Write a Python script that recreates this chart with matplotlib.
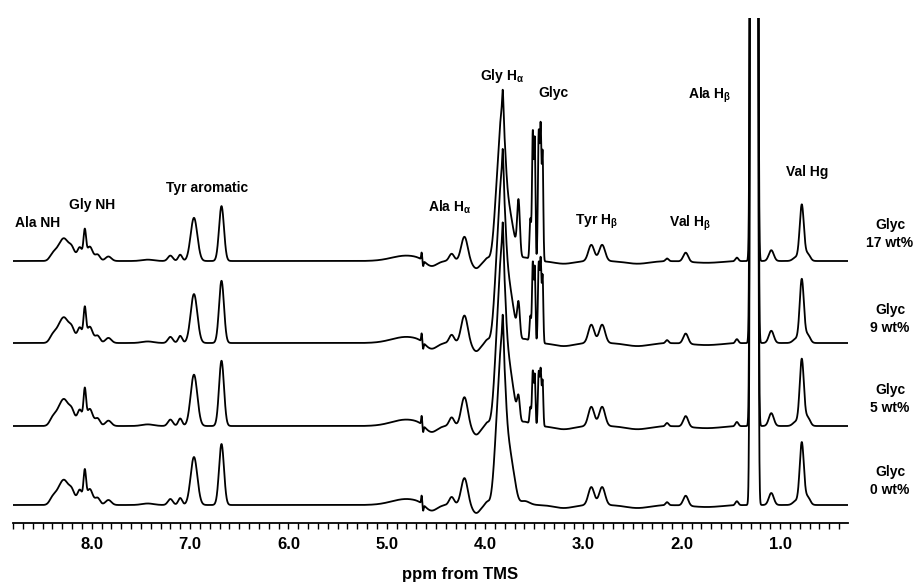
#Stacked 1H NMR spectra of silk film with glycerol
#peak lists, drawn as sums of gaussian lines

import numpy as np
import matplotlib
matplotlib.use('Agg')
import matplotlib.pyplot as plt

plt.rcParams['font.family'] = ['Liberation Sans', 'DejaVu Sans']
plt.rcParams['mathtext.fontset'] = 'custom'
plt.rcParams['mathtext.rm'] = 'Liberation Sans:bold'
plt.rcParams['mathtext.it'] = 'Liberation Sans:bold'
plt.rcParams['mathtext.bf'] = 'Liberation Sans:bold'

#protein peaks (ppm, height, width)
prot_ppm = [8.40, 8.35, 8.28, 8.20, 8.12, 8.07, 8.02, 7.94, 7.83, 7.43,
            7.20, 7.10, 6.96, 6.68,
            4.80, 4.55, 4.645, 4.63, 4.34, 4.21, 4.09, 3.98,
            3.87, 3.82, 3.82, 3.76, 3.71, 3.60, 3.20,
            2.92, 2.81, 2.45, 2.15, 1.96, 1.75, 1.44,
            1.285, 1.245, 1.09, 0.84, 0.78, 0.72]
prot_height = [6, 7, 24, 12, 15, 30, 16, 7, 5, 1.5,
               6, 7, 48, 61,
               6, -7, 8, -6, 8, 27, -8, 3,
               80, 130, 25, 45, 22, 4, -3,
               18, 18, -3, 3, 10, -2, 4,
               3000, 3000, 12, 4, 62, 8]
prot_width = [0.03, 0.035, 0.045, 0.03, 0.025, 0.013, 0.03, 0.025, 0.03, 0.06,
              0.025, 0.02, 0.034, 0.025,
              0.15, 0.06, 0.005, 0.005, 0.025, 0.033, 0.04, 0.02,
              0.035, 0.03, 0.006, 0.03, 0.03, 0.05, 0.1,
              0.03, 0.03, 0.12, 0.015, 0.025, 0.15, 0.015,
              0.012, 0.012, 0.025, 0.03, 0.021, 0.025]

#glycerol lines (ppm, height, width)
glyc_ppm = [3.66, 3.54, 3.515, 3.495, 3.455, 3.435, 3.415]
glyc_height = [55, 40, 128, 118, 125, 132, 105]
glyc_width = [0.014, 0.008, 0.008, 0.007, 0.008, 0.008, 0.007]

#spectra, bottom to top
samples = ['0', '5', '9', '17']
prot_scale = [1.0, 1.07, 1.02, 0.9]
glyc_scale = [0.0, 0.42, 0.62, 1.0]

ppm = np.linspace(8.80, 0.31, 6000)

def spectrum(p_sc, g_sc):
    y = np.zeros_like(ppm)
    for c, h, w in zip(prot_ppm, prot_height, prot_width):
        y += p_sc*h*np.exp(-0.5*((ppm - c)/w)**2)
    for c, h, w in zip(glyc_ppm, glyc_height, glyc_width):
        y += g_sc*h*np.exp(-0.5*((ppm - c)/w)**2)
    return y

W, H = 919, 586
fig = plt.figure(figsize=(W/100, H/100), dpi=100)
#axes placed in pixels: x 13..848, y 18..523 from top
ax = fig.add_axes([13/W, (H-523)/H, 835/W, 505/H])

#baselines of the four traces in pixels above the axis line
offsets = [18, 97, 180, 262]
for i in range(len(samples)):
    ax.plot(ppm, offsets[i] + spectrum(prot_scale[i], glyc_scale[i]),
            color='black', lw=1.3)

ax.set_xlim(8.80, 0.31)
ax.set_ylim(0, 505)
for s in ['top', 'left', 'right']:
    ax.spines[s].set_visible(False)
ax.spines['bottom'].set_linewidth(1.3)
ax.set_yticks([])
ax.set_xticks(np.arange(1.0, 8.01, 1.0))
ax.set_xticks(np.arange(0.4, 8.81, 0.1), minor=True)
ax.set_xticklabels(['%.1f' % v for v in np.arange(1.0, 8.01, 1.0)])
ax.tick_params(axis='x', which='both', direction='out', length=4, width=1.0,
               pad=6, labelsize=12)
for t in ax.get_xticklabels():
    t.set_fontweight('bold')

def px(x, y):
    return x/W, 1 - y/H

#peak labels, pixel centres
labels = [('Ala NH', 38, 223), ('Gly NH', 92, 205), ('Tyr aromatic', 207, 188),
          (r'Ala H$_\alpha$', 450, 207), (r'Gly H$_\alpha$', 502, 76),
          ('Glyc', 553, 93), (r'Tyr H$_\beta$', 597, 222),
          (r'Val H$_\beta$', 690, 223), (r'Ala H$_\beta$', 710, 95),
          ('Val Hg', 807, 172)]
for txt, x, y in labels:
    fig.text(*px(x, y), txt, ha='center', va='center', fontsize=10,
             fontweight='bold')

#trace labels on the right
label_y = [481, 399, 319, 234]
for i in range(len(samples)):
    fig.text(*px(890, label_y[i]), 'Glyc\n%s wt%%' % samples[i], ha='center',
             va='center', fontsize=10, fontweight='bold', linespacing=1.35)

fig.text(*px(460, 575), 'ppm from TMS', ha='center', va='center',
         fontsize=12, fontweight='bold')

plt.savefig('out.png', dpi=100)
